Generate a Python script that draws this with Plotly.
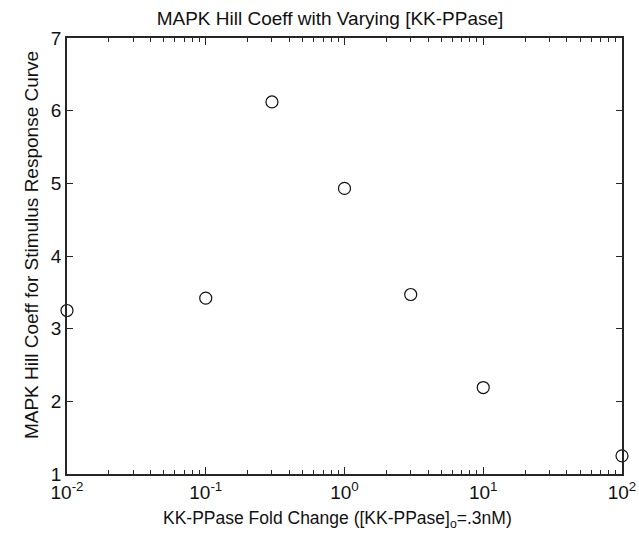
import plotly.graph_objects as go

fold_change = [0.01, 0.1, 0.3, 1, 3, 10, 100]
hill_coeff = [3.25, 3.42, 6.12, 4.93, 3.47, 2.19, 1.25]

x_tickvals = [0.01, 0.1, 1, 10, 100]
x_ticktext = ["10<sup>-2</sup>", "10<sup>-1</sup>", "10<sup>0</sup>", "10<sup>1</sup>", "10<sup>2</sup>"]
y_tickvals = [1, 2, 3, 4, 5, 6, 7]

title_text = "MAPK Hill Coeff with Varying [KK-PPase]"
x_title_text = "KK-PPase Fold Change ([KK-PPase]<sub>o</sub>=.3nM)"
y_title_text = "MAPK Hill Coeff for Stimulus Response Curve"

minor_vals = [m * 10 ** e for e in range(-2, 2) for m in range(2, 10)]

font_family = "Liberation Sans, Arial, sans-serif"
axis_color = "#262626"
fs = 19

fig = go.Figure()
fig.add_trace(go.Scatter(
    x=fold_change, y=hill_coeff, mode="markers",
    marker=dict(symbol="circle-open", size=12, color="#111111", line=dict(width=1.2)),
    cliponaxis=False, showlegend=False,
))

fig.update_layout(
    width=639, height=538,
    margin=dict(l=67, r=17, t=38, b=64, autoexpand=False),
    paper_bgcolor="white", plot_bgcolor="white",
    font=dict(family=font_family, size=fs, color="#111111"),
    title=dict(text=title_text, x=330 / 639, xanchor="center", xref="container",
               y=1 - 18 / 538, yanchor="middle", font=dict(size=19)),
    annotations=[
        dict(text=x_title_text, xref="paper", yref="paper", x=0.4865, y=-0.1055,
             xanchor="center", yanchor="middle", showarrow=False, font=dict(size=17.5)),
        dict(text=y_title_text, xref="paper", yref="paper", x=-0.0649, y=0.525,
             xanchor="center", yanchor="middle", textangle=-90, showarrow=False,
             font=dict(size=19)),
    ],
)

fig.update_xaxes(
    type="log", range=[-2, 2],
    tickvals=x_tickvals, ticktext=x_ticktext,
    ticks="inside", ticklen=7, tickwidth=1, tickcolor=axis_color,
    showline=True, linecolor=axis_color, linewidth=1.5, mirror="allticks",
    showgrid=False, zeroline=False, automargin=False,
    minor=dict(tickvals=minor_vals, ticks="inside", ticklen=4, tickcolor=axis_color, showgrid=False),
    tickfont=dict(size=fs),
)
fig.update_yaxes(
    range=[1, 7], tickvals=y_tickvals,
    ticks="inside", ticklen=6, tickwidth=1, tickcolor=axis_color,
    showline=True, linecolor=axis_color, linewidth=1.5, mirror="allticks",
    showgrid=False, zeroline=False, automargin=False,
    tickfont=dict(size=fs),
)

fig.write_html("out.html")
